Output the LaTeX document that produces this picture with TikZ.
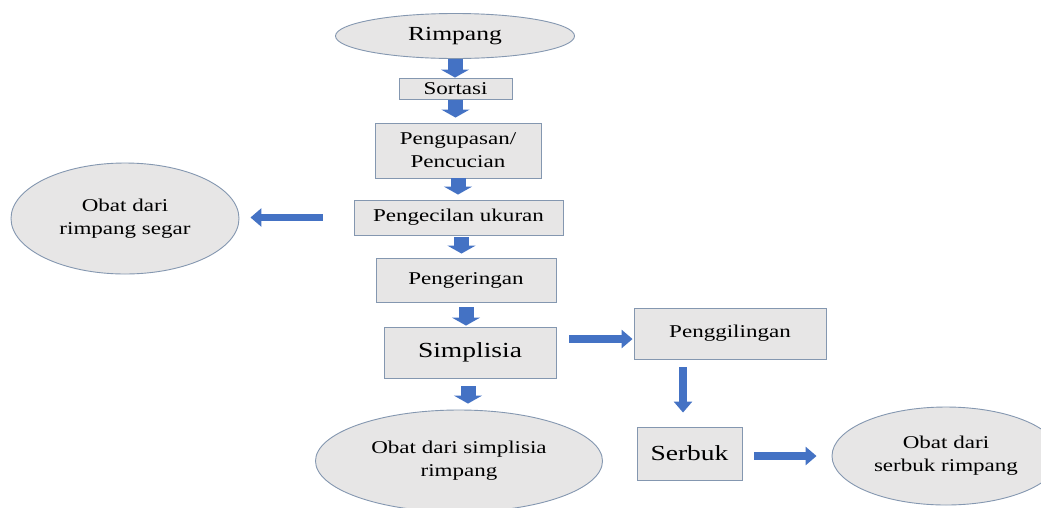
\documentclass[tikz,border=0pt]{standalone}
\usepackage{fontspec}
\setmainfont{Liberation Serif}[FakeStretch=1.28]
\usetikzlibrary{arrows.meta,shapes.geometric}
\definecolor{boxfill}{HTML}{E7E6E6}
\definecolor{boxline}{HTML}{8497B0}
\definecolor{arrowblue}{HTML}{4472C4}
\tikzset{
  stepbox/.style={draw=boxline, line width=0.9pt, fill=boxfill, inner sep=0pt, align=center,
    font=\fontsize{18pt}{23pt}\selectfont},
  oval/.style={ellipse, draw=boxline, line width=0.9pt, fill=boxfill, inner sep=0pt, align=center,
    font=\fontsize{18pt}{23pt}\selectfont},
  fatarrow/.style={draw=arrowblue, line width=15pt, -{Triangle[width=28pt,length=8pt]}},
  slimarrow/.style={draw=arrowblue, line width=7.5pt, -{Triangle[width=18pt,length=11pt]}},
}
\begin{document}
\begin{tikzpicture}[x=1pt,y=-1pt]
\clip (0,0) rectangle (1041,507);
\useasboundingbox (0,0) rectangle (1041,507);
\fill[white] (0,0) rectangle (1041,507);

\node[oval, minimum width=239pt, minimum height=45pt, font=\fontsize{20pt}{24pt}\selectfont] (rimpang) at (455,36) {Rimpang};
\node[stepbox, minimum width=113pt, minimum height=21pt] (sortasi) at (455.5,88.5) {Sortasi};
\node[stepbox, minimum width=166pt, minimum height=55pt] (kupas) at (458,150.5) {Pengupasan/\\Pencucian};
\node[stepbox, minimum width=209pt, minimum height=35pt] (kecil) at (458.5,217.5) {Pengecilan ukuran};
\node[stepbox, minimum width=180pt, minimum height=44pt] (kering) at (466,280) {Pengeringan};
\node[stepbox, minimum width=172pt, minimum height=51pt, font=\fontsize{21.5pt}{25pt}\selectfont] (simplisia) at (470,352.5) {Simplisia};
\node[stepbox, minimum width=192pt, minimum height=51pt] (giling) at (730,333.5) {Penggilingan};
\node[stepbox, minimum width=105pt, minimum height=53pt, font=\fontsize{21.5pt}{25pt}\selectfont] (serbuk) at (689.5,453.5) {Serbuk};
\node[oval, minimum width=228pt, minimum height=111pt] (segar) at (125,218.5) {Obat dari\\rimpang segar};
\node[oval, minimum width=287pt, minimum height=102pt] (obatsimp) at (459,461) {Obat dari simplisia\\rimpang};
\node[oval, minimum width=228pt, minimum height=98pt] (obatserb) at (946,456) {Obat dari\\serbuk rimpang};

\draw[fatarrow] (rimpang.south) -- (rimpang.south |- sortasi.north);
\draw[fatarrow, shorten <=1pt, shorten >=5pt] (sortasi.south) -- (sortasi.south |- kupas.north);
\draw[fatarrow, shorten >=5pt] (kupas.south) -- (kupas.south |- kecil.north);
\draw[fatarrow, shorten <=2pt, shorten >=4pt] ([xshift=3pt]kecil.south) -- ([xshift=3pt]kecil.south |- kering.north);
\draw[fatarrow, shorten <=5pt, shorten >=1pt] (kering.south) -- (kering.south |- simplisia.north);
\draw[fatarrow, shorten <=8pt, shorten >=6pt] ([xshift=-2pt]simplisia.south) -- ([xshift=-2pt]simplisia.south |- obatsimp.north);
\draw[slimarrow, shorten <=31pt, shorten >=11pt] (kecil.west) -- (kecil.west -| segar.east);
\draw[slimarrow, shorten <=13pt, shorten >=1pt] ([yshift=13.5pt]simplisia.east) -- ([yshift=13.5pt]simplisia.east -| giling.west);
\draw[slimarrow, shorten <=8pt, shorten >=14pt] ([xshift=-47pt]giling.south) -- ([xshift=-47pt]giling.south |- serbuk.north);
\draw[slimarrow, shorten <=12pt, shorten >=15pt] ([yshift=-2.5pt]serbuk.east) -- ([yshift=-2.5pt]serbuk.east -| obatserb.west);
\end{tikzpicture}
\end{document}
